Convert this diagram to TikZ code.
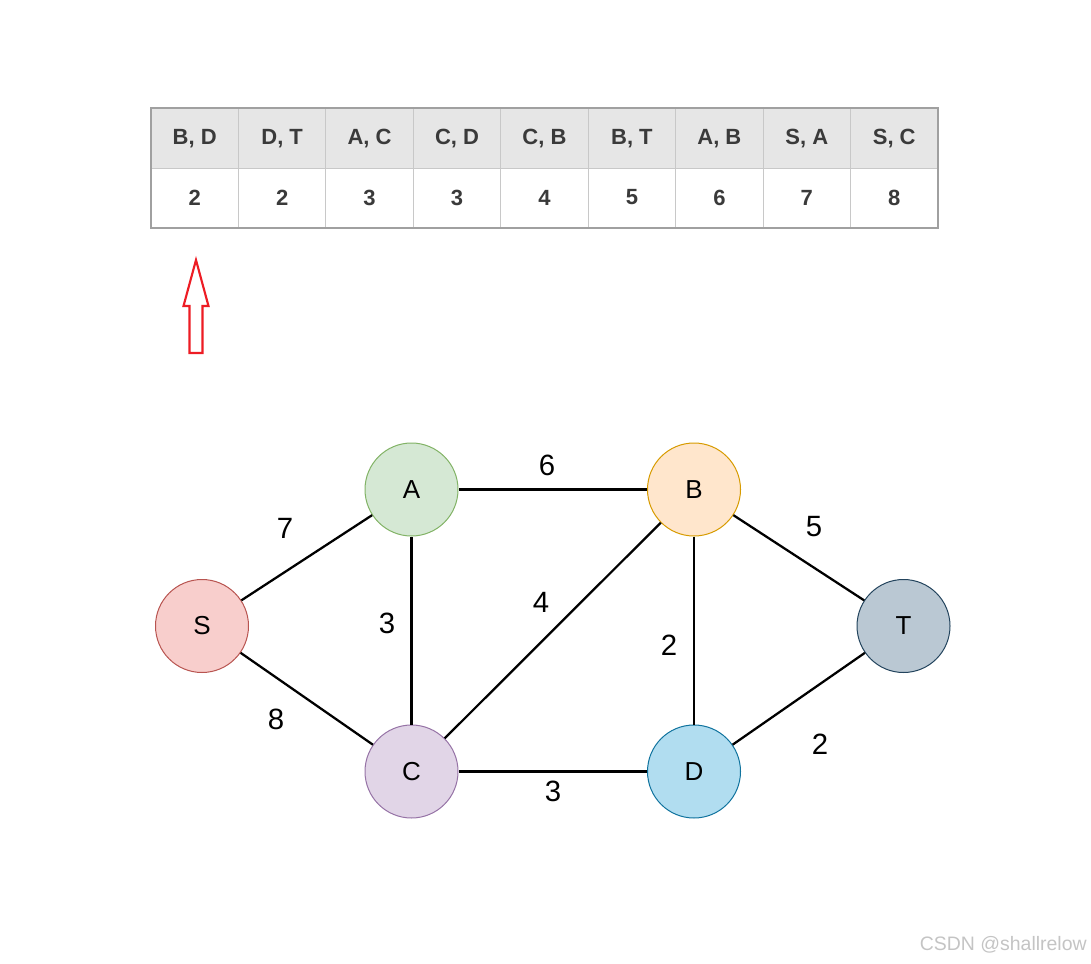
\documentclass[tikz,border=0pt]{standalone}
\usepackage{fontspec}
\setmainfont{Liberation Sans}
\definecolor{hgray}{HTML}{E6E6E6}
\definecolor{cellline}{HTML}{C8C8C8}
\definecolor{outerline}{HTML}{A0A0A0}
\definecolor{celltext}{HTML}{3A3A3A}
\definecolor{arrowred}{HTML}{ED1C24}
\definecolor{sfill}{HTML}{F8CECC}\definecolor{sdraw}{HTML}{B85450}
\definecolor{afill}{HTML}{D5E8D4}\definecolor{adraw}{HTML}{82B366}
\definecolor{bfill}{HTML}{FFE6CC}\definecolor{bdraw}{HTML}{D79B00}
\definecolor{tfill}{HTML}{BAC8D3}\definecolor{tdraw}{HTML}{23445D}
\definecolor{cfill}{HTML}{E1D5E7}\definecolor{cdraw}{HTML}{9673A6}
\definecolor{dfill}{HTML}{B1DDF0}\definecolor{ddraw}{HTML}{10739E}
\definecolor{wmark}{HTML}{C4C4C4}
\begin{document}
\begin{tikzpicture}[x=0.75pt,y=-0.75pt,
  cellbase/.style={draw=cellline,line width=0.75pt,minimum width=65.58pt,minimum height=44.25pt,inner sep=0pt,text=celltext,font=\fontsize{16.5}{18}\selectfont\bfseries},
  hcell/.style={cellbase,fill=hgray},
  vcell/.style={cellbase,fill=white},
  vertex/.style={circle,minimum size=69.75pt,inner sep=0pt,line width=0.75pt,font=\fontsize{19.5}{22}\selectfont},
  wlabel/.style={font=\fontsize{22}{24}\selectfont,inner sep=0pt},
  link/.style={line width=1.7pt,black}
]
\useasboundingbox (0,0) rectangle (1091,963);
% table
\foreach \i/\e/\w in {1/{B, D}/2,2/{D, T}/2,3/{A, C}/3,4/{C, D}/3,5/{C, B}/4,6/{B, T}/5,7/{A, B}/6,8/{S, A}/7,9/{S, C}/8}{
  \node[hcell] (h\i) at ({151+(\i-0.5)*87.44},138.5) {\e};
  \node[vcell] (v\i) at ({151+(\i-0.5)*87.44},197.5) {\w};
}
\draw[draw=outerline,line width=1.5pt] (h1.north west) rectangle (v9.south east);
% red hollow arrow
\draw[arrowred,line width=1.6pt,fill=white,line join=miter]
  (196,260) -- (208.5,306) -- (202.5,306) -- (202.5,353) -- (189.5,353) -- (189.5,306) -- (183.5,306) -- cycle;
% graph
\node[vertex,fill=sfill,draw=sdraw] (S) at (202,626) {S};
\node[vertex,fill=afill,draw=adraw] (A) at (411.5,489.5) {A};
\node[vertex,fill=bfill,draw=bdraw] (B) at (694,489.5) {B};
\node[vertex,fill=tfill,draw=tdraw] (T) at (903.5,626) {T};
\node[vertex,fill=cfill,draw=cdraw] (C) at (411.5,771.5) {C};
\node[vertex,fill=dfill,draw=ddraw] (D) at (694,771.5) {D};
\draw[link] (S) -- (A);
\draw[link] (S) -- (C);
\draw[link] (A) -- (B);
\draw[link] (A) -- (C);
\draw[link] (C) -- (B);
\draw[link] (C) -- (D);
\draw[link] (B) -- (D);
\draw[link] (B) -- (T);
\draw[link] (D) -- (T);
\node[wlabel] (lAB) at (547,465) {6};
\node[wlabel] (lSA) at (285,528) {7};
\node[wlabel] (lBT) at (814,527) {5};
\node[wlabel] (lAC) at (387,623) {3};
\node[wlabel] (lCB) at (541,602) {4};
\node[wlabel] (lBD) at (669,645) {2};
\node[wlabel] (lSC) at (276,719) {8};
\node[wlabel] (lDT) at (820,744) {2};
\node[wlabel] (lCD) at (553,791) {3};
% watermark
\node[text=wmark,font=\fontsize{14.6}{16}\selectfont,inner sep=0pt,anchor=east] (wm) at (1087,945) {CSDN @shallrelow};
\end{tikzpicture}
\end{document}
